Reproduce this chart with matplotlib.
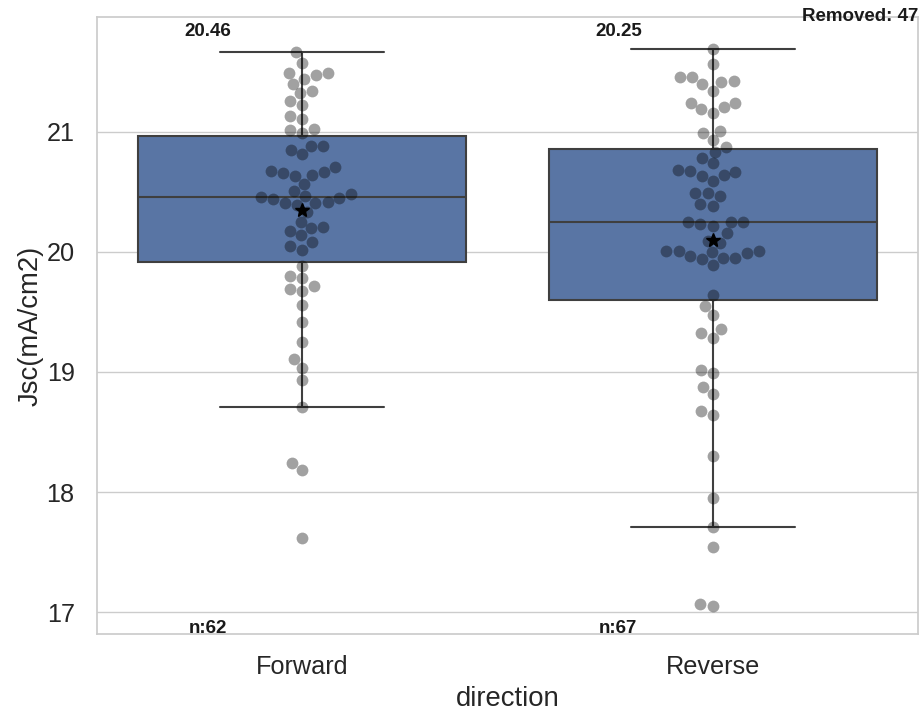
import numpy as np
import pandas as pd
import matplotlib
matplotlib.use("Agg")
import matplotlib.pyplot as plt
import seaborn as sns

categories = ["Forward", "Reverse"]

forward_jsc = [21.664, 21.578, 21.494, 21.494, 21.472, 21.439, 21.40, 21.344, 21.322,
               21.256, 21.225, 21.131, 21.111, 21.025, 21.017, 20.994, 20.886, 20.886,
               20.847, 20.814, 20.708, 20.667, 20.672, 20.661, 20.642, 20.636, 20.567,
               20.508, 20.481, 20.469, 20.462, 20.450, 20.439, 20.417, 20.411, 20.411,
               20.394, 20.336, 20.253, 20.211, 20.200, 20.178, 20.139, 20.083, 20.047,
               20.019, 19.886, 19.800, 19.780, 19.717, 19.694, 19.678, 19.558, 19.419,
               19.250, 19.106, 19.036, 18.931, 18.706, 18.239, 18.183, 17.619]

reverse_jsc = [21.692, 21.564, 21.456, 21.456, 21.428, 21.414, 21.397, 21.344, 21.244,
               21.239, 21.206, 21.194, 21.158, 21.011, 20.994, 20.933, 20.878, 20.836,
               20.783, 20.739, 20.669, 20.675, 20.683, 20.636, 20.642, 20.594, 20.494,
               20.489, 20.467, 20.400, 20.386, 20.253, 20.253, 20.233, 20.249, 20.219,
               20.156, 20.092, 20.072, 20.011, 20.008, 20.006, 19.990, 19.997, 19.967,
               19.953, 19.939, 19.947, 19.889, 19.642, 19.550, 19.475, 19.356, 19.322,
               19.281, 19.017, 18.989, 18.872, 18.814, 18.678, 18.642, 18.303, 17.950,
               17.710, 17.542, 17.064, 17.050]

removed_count = 47

df = pd.DataFrame({
    "direction": ["Forward"] * len(forward_jsc) + ["Reverse"] * len(reverse_jsc),
    "Jsc(mA/cm2)": forward_jsc + reverse_jsc,
})

sns.set_theme(style="whitegrid", font_scale=1.65)
plt.rcParams["font.family"] = ["Liberation Sans", "DejaVu Sans"]

fig, ax = plt.subplots(figsize=(9.2, 7.13), dpi=100)
fig.subplots_adjust(left=0.1054, right=0.9978, top=0.9762, bottom=0.1108)

sns.boxplot(data=df, x="direction", y="Jsc(mA/cm2)", order=categories,
            showfliers=False, color="#4c72b0", saturation=0.75,
            linecolor="#3f3f3f", linewidth=1.5, width=0.8, ax=ax)
sns.swarmplot(data=df, x="direction", y="Jsc(mA/cm2)", order=categories,
              color="black", alpha=0.37, size=8.5, ax=ax)

groups = [forward_jsc, reverse_jsc]
for i, vals in enumerate(groups):
    ax.plot([i], [np.mean(vals)], marker="*", color="black", markersize=10,
            linestyle="none", zorder=10)
    ax.text(i - 0.23, 21.835, f"{np.median(vals):.2f}", ha="center", va="center",
            fontsize=13.5, fontweight="bold", color="#1a1a1a")
    ax.text(i - 0.23, 16.86, f"n:{len(vals)}", ha="center", va="center",
            fontsize=13.5, fontweight="bold", color="#1a1a1a")

ax.text(1.0, 0.9935, f"Removed: {removed_count}", transform=ax.transAxes,
        ha="right", va="baseline", fontsize=13.5, fontweight="bold", color="#1a1a1a")

ax.set_ylim(16.817, 21.958)
ax.set_xlim(-0.5, 1.5)
ax.set_yticks([17, 18, 19, 20, 21])
ax.xaxis.grid(False)
ax.tick_params(axis="y", pad=10)
ax.tick_params(axis="x", pad=9)
ax.set_xlabel("direction", labelpad=5)
ax.set_ylabel("Jsc(mA/cm2)", labelpad=2.5)

fig.savefig("out.png", dpi=100)
